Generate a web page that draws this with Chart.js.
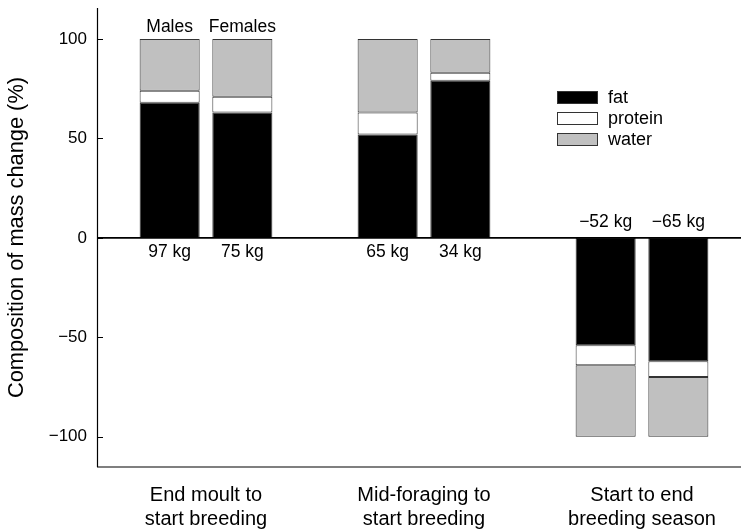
<!DOCTYPE html>
<html>
<head>
<meta charset="utf-8">
<script src="https://cdn.jsdelivr.net/npm/chart.js@4"></script>
<style>
  html, body { margin: 0; padding: 0; background: #fff; overflow: hidden; }
  #wrap { width: 741px; height: 530px; position: relative; overflow: hidden; }
  #c { display: block; }
</style>
</head>
<body>
<div id="wrap"><canvas id="c" width="751" height="530"></canvas></div>
<script>
// ---- data ----
const categories = [
  ['End moult to', 'start breeding'],
  ['Mid-foraging to', 'start breeding'],
  ['Start to end', 'breeding season']
];
const sexes = ['Males', 'Females'];
const components = ['fat', 'protein', 'water'];
const fatMales      = [68, 52, -54];
const proteinMales  = [6, 11, -10];
const waterMales    = [26, 37, -36];
const fatFemales    = [63, 79, -62];
const proteinFemales= [8, 4, -8];
const waterFemales  = [29, 17, -30];
const massMales   = ['97 kg', '65 kg', '\u221252 kg'];
const massFemales = ['75 kg', '34 kg', '\u221265 kg'];
const yTicks = [-100, -50, 0, 50, 100];

// ---- styles ----
const FONT = "'Liberation Sans', Arial, Helvetica, sans-serif";
const colours = { fat: '#000000', protein: '#ffffff', water: '#c0c0c0' };
const edge = '#333333';

function ds(label, data, comp, stack) {
  return {
    label: label, data: data, stack: stack,
    backgroundColor: colours[comp], borderColor: edge, borderWidth: 1,
    borderSkipped: false,
    categoryPercentage: 0.667, barPercentage: 0.826
  };
}

const datasets = [
  ds('fat', fatMales, 'fat', 'M'),
  ds('protein', proteinMales, 'protein', 'M'),
  ds('water', waterMales, 'water', 'M'),
  ds('fat', fatFemales, 'fat', 'F'),
  ds('protein', proteinFemales, 'protein', 'F'),
  ds('water', waterFemales, 'water', 'F')
];

const fmt = v => (v < 0 ? '\u2212' + Math.abs(v) : String(v));

const decor = {
  id: 'decor',
  afterDatasetsDraw(chart) {
    const ctx = chart.ctx, a = chart.chartArea, ys = chart.scales.y;
    const y0 = ys.getPixelForValue(0);
    ctx.save();
    ctx.strokeStyle = '#000';
    // axes
    ctx.lineWidth = 1.2;
    ctx.beginPath();
    ctx.moveTo(a.left + 0.5, a.top); ctx.lineTo(a.left + 0.5, a.bottom);
    ctx.moveTo(a.left, a.bottom); ctx.lineTo(a.right, a.bottom);
    ctx.stroke();
    ctx.lineWidth = 1.6;
    ctx.beginPath();
    ctx.moveTo(a.left, y0); ctx.lineTo(a.right, y0);
    ctx.stroke();
    // inward ticks
    ctx.lineWidth = 1;
    ctx.beginPath();
    yTicks.forEach(v => {
      const p = Math.round(ys.getPixelForValue(v)) + 0.5;
      ctx.moveTo(a.left, p); ctx.lineTo(a.left + 6, p);
    });
    ctx.stroke();

    // annotations
    ctx.fillStyle = '#000';
    ctx.font = '17.5px ' + FONT;
    ctx.textAlign = 'center';
    ctx.textBaseline = 'alphabetic';
    const metaM = chart.getDatasetMeta(0), metaF = chart.getDatasetMeta(3);
    const put = (labels, vals, meta) => labels.forEach((t, i) => {
      const bx = meta.data[i].x;
      ctx.fillText(t, bx, vals[i] >= 0 ? y0 + 19 : y0 - 11);
    });
    put(massMales, fatMales, metaM);
    put(massFemales, fatFemales, metaF);
    const yTop = ys.getPixelForValue(100) - 7;
    ctx.fillText(sexes[0], metaM.data[0].x, yTop);
    ctx.fillText(sexes[1], metaF.data[0].x, yTop);

    // legend
    ctx.font = '18px ' + FONT;
    ctx.textAlign = 'left';
    ctx.textBaseline = 'middle';
    const lx = 557, ly = [91, 112, 133], bw = 41, bh = 13;
    components.forEach((c, i) => {
      ctx.fillStyle = colours[c];
      ctx.fillRect(lx, ly[i], bw, bh);
      ctx.strokeStyle = edge; ctx.lineWidth = 1;
      ctx.strokeRect(lx + 0.5, ly[i] + 0.5, bw - 1, bh - 1);
      ctx.fillStyle = '#000';
      ctx.fillText(c, lx + 51, ly[i] + bh / 2 + 1);
    });
    ctx.restore();
  }
};

new Chart(document.getElementById('c'), {
  type: 'bar',
  data: { labels: categories, datasets: datasets },
  options: {
    responsive: false,
    animation: false,
    layout: { padding: { top: 8, right: 0, left: 0, bottom: 0 } },
    plugins: { legend: { display: false }, tooltip: { enabled: false } },
    scales: {
      x: {
        stacked: true,
        grid: { display: false, drawTicks: false },
        border: { display: false },
        ticks: { color: '#000', font: { family: FONT, size: 20 }, padding: 16, maxRotation: 0, autoSkip: false },
        afterFit(s) { s.height = 63; s.paddingLeft = 0; s.paddingRight = 0; }
      },
      y: {
        stacked: true,
        min: -115.2, max: 115.6,
        grid: { display: false, drawTicks: false },
        border: { display: false },
        afterBuildTicks(s) { s.ticks = yTicks.map(v => ({ value: v })); },
        ticks: { color: '#000', font: { family: FONT, size: 17 }, padding: 10, callback: v => fmt(v) },
        title: { display: true, text: 'Composition of mass change (%)', color: '#000', font: { family: FONT, size: 21.8 }, padding: { top: 4, bottom: 0 } },
        afterFit(s) { s.width = 97; s.paddingTop = 0; s.paddingBottom = 0; }
      }
    }
  },
  plugins: [decor]
});
</script>
</body>
</html>
